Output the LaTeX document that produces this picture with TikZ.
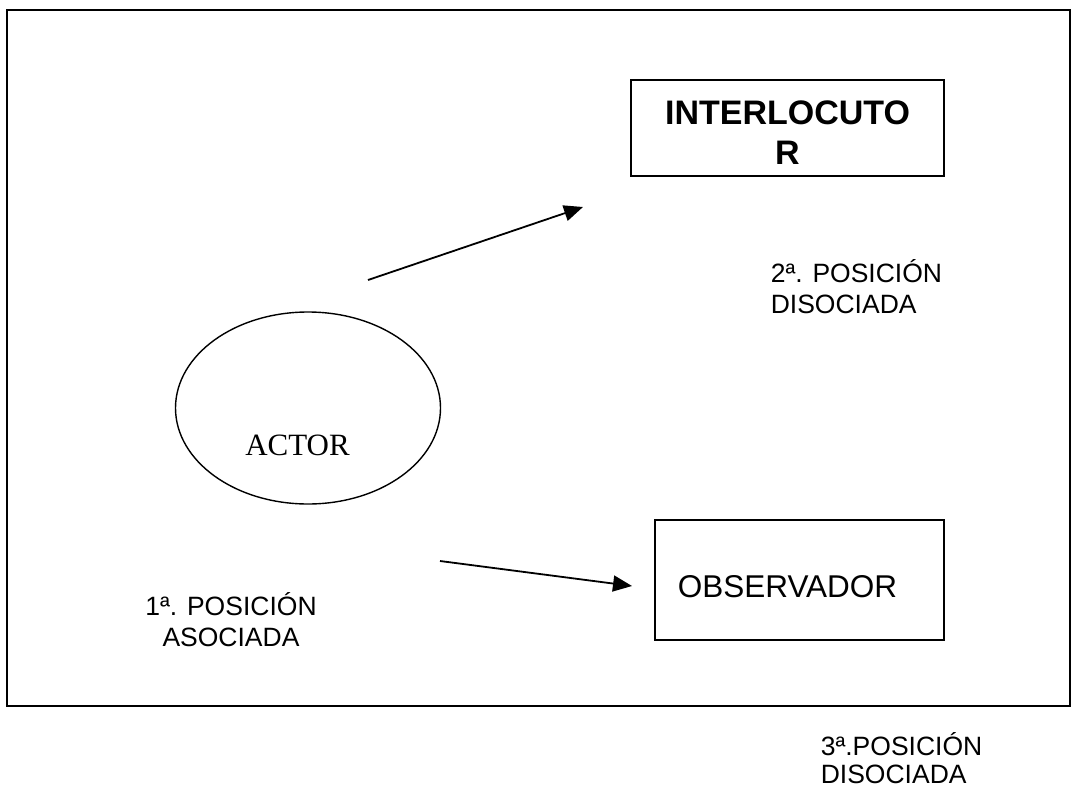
\documentclass[tikz,border=0pt]{standalone}
\usepackage{fontspec}
\setmainfont{Liberation Sans}
\newfontfamily\timesf{Liberation Serif}
\usetikzlibrary{arrows.meta,shapes.geometric}
\begin{document}
\begin{tikzpicture}[x=1pt,y=-1pt, line width=1.6pt,
  boxnode/.style={draw, rectangle, inner sep=0pt},
  lbl/.style={font=\fontsize{26.5}{30.5}\selectfont, inner sep=0pt},
  arr/.style={-{Triangle[length=19pt,width=16pt]}, line width=1.8pt}]
\useasboundingbox (0,0) rectangle (1078,792);
\draw (7,10) rectangle (1070,706);
% interlocutor
\node[boxnode, minimum width=313pt, minimum height=96pt] (inter) at (787.5,128) {};
\node[font=\bfseries\fontsize{34}{40}\selectfont, align=center, anchor=base, inner sep=0pt] (intertxt) at (787.5,164) {INTERLOCUTO\\R};
% actor
\node[draw, ellipse, minimum width=265pt, minimum height=192pt, inner sep=0pt, line width=1.4pt] (actor) at (308,408) {};
\node[font=\timesf\fontsize{31}{36}\selectfont, anchor=base, inner sep=0pt] (actortxt) at (297.5,455) {ACTOR};
% observador
\node[boxnode, minimum width=289pt, minimum height=120pt] (obs) at (799.5,580) {};
\node[font=\fontsize{31.5}{36}\selectfont, anchor=base west, inner sep=0pt] (obstxt) at (677,597) {OBSERVADOR};
% arrows
\coordinate (a1s) at (368,280);
\coordinate (a1e) at (583,207);
\draw[arr] (a1s) -- (a1e);
\coordinate (a2s) at (440,561);
\coordinate (a2e) at (632,586);
\draw[arr] (a2s) -- (a2e);
% labels
\node[lbl, align=left, anchor=base west] (pos2) at (770,313) {2ª. POSICIÓN\\DISOCIADA};
\node[lbl, align=center, anchor=base] (pos1) at (231,646) {1ª. POSICIÓN\\ASOCIADA};
\node[font=\fontsize{26.5}{27.5}\selectfont, inner sep=0pt, align=left, anchor=base west] (pos3) at (820,783) {3ª.POSICIÓN\\DISOCIADA};
\end{tikzpicture}
\end{document}
